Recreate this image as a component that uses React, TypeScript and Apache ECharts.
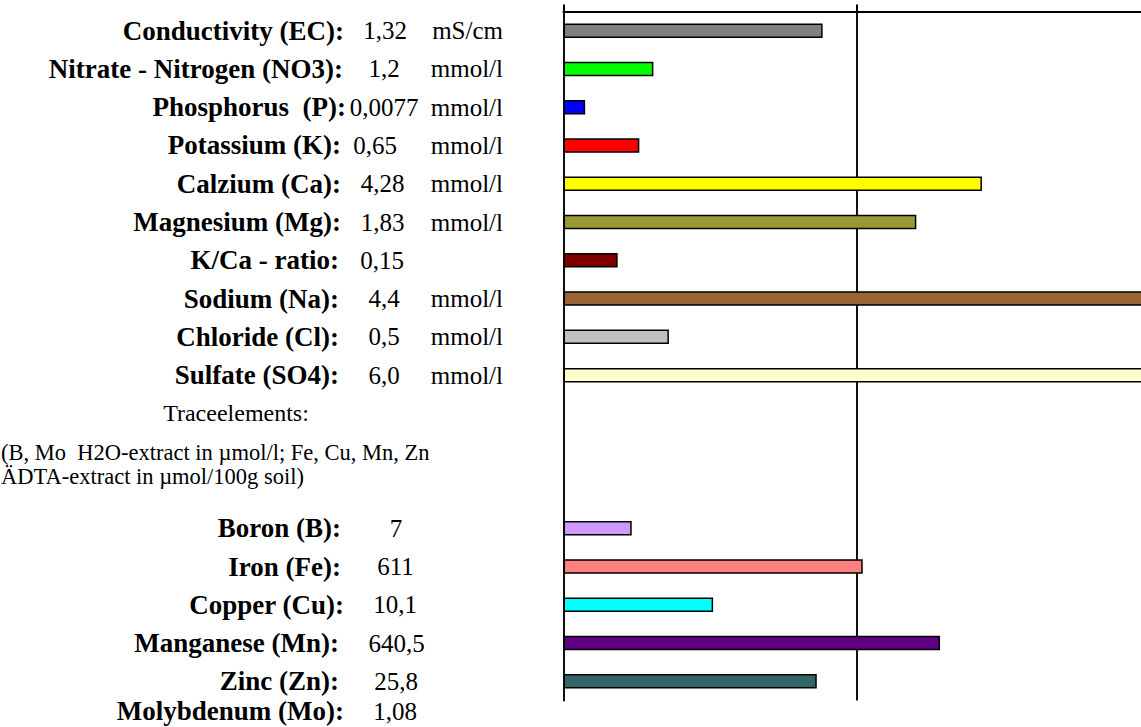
import React, { useEffect, useRef } from "react";
import * as echarts from "echarts";

// ---- data ----
const categories = [
  "Conductivity (EC)", "Nitrate - Nitrogen (NO3)", "Phosphorus (P)", "Potassium (K)",
  "Calzium (Ca)", "Magnesium (Mg)", "K/Ca - ratio", "Sodium (Na)", "Chloride (Cl)",
  "Sulfate (SO4)", "Traceelements", "note-1", "note-2", "Boron (B)", "Iron (Fe)",
  "Copper (Cu)", "Manganese (Mn)", "Zinc (Zn)",
];
// bar length in % of the norm (vertical line = 100 %)
const barPercent = [88.5, 30.7, 7.4, 25.9, 142.9, 120.5, 18.5, 200, 36.0, 200, null, null, null, 23.3, 102.2, 51.1, 128.6, 86.5];
const barColors = [
  "#808080", "#00FF00", "#0000FF", "#FF0000", "#FFFF00", "#999933", "#800000", "#996633", "#C0C0C0",
  "#FFFFCC", null, null, null, "#CC99FF", "#FF8080", "#00FFFF", "#600080", "#336666",
];
const rowLabels = [
  "Conductivity (EC):", "Nitrate - Nitrogen (NO3):", "Phosphorus  (P):", "Potassium (K):",
  "Calzium (Ca):", "Magnesium (Mg):", "K/Ca - ratio:", "Sodium (Na):", "Chloride (Cl):",
  "Sulfate (SO4):", "", "", "", "Boron (B):", "Iron (Fe):", "Copper (Cu):",
  "Manganese (Mn):", "Zinc (Zn):", "Molybdenum (Mo):",
];
const rowValues = [
  "1,32", "1,2", "0,0077", "0,65", "4,28", "1,83", "0,15", "4,4", "0,5", "6,0", "", "", "",
  "7", "611", "10,1", "640,5", "25,8", "1,08",
];
const rowUnits = [
  "mS/cm", "mmol/l", "mmol/l", "mmol/l", "mmol/l", "mmol/l", "", "mmol/l", "mmol/l", "mmol/l",
  "", "", "", "", "", "", "", "", "",
];
const sectionTitle = "Traceelements:";
const noteLines = [
  "(B, Mo  H2O-extract in µmol/l; Fe, Cu, Mn, Zn",
  "ÄDTA-extract in µmol/100g soil)",
];

// ---- layout ----
const GRID_LEFT = 563.5;
const GRID_TOP = 11.5;
const GRID_W = 585.6;
const GRID_H = 689;
const BAND = GRID_H / categories.length;
const labelRight = [344, 343, 346, 341, 341, 341, 339, 339, 339, 339, 0, 0, 0, 341, 341, 344, 339, 339, 344];
const valueCenter = [385, 384, 384, 375, 382.5, 382.5, 382, 384, 384, 384, 0, 0, 0, 396, 395.5, 395, 396.5, 396, 395];
const UNIT_RIGHT = 503;
const FONT_FAMILY = '"Liberation Serif", "Times New Roman", serif';

function rowY(i: number) {
  return GRID_TOP + (i + 0.5) * BAND;
}

function txt(text: string, x: number, y: number, align: string, font: string) {
  return {
    type: "text",
    x,
    y,
    silent: true,
    style: {
      text,
      fill: "#000",
      font,
      align,
      verticalAlign: "middle",
      textAlign: align,
      textVerticalAlign: "middle",
    },
  };
}

export default function App() {
  const ref = useRef<HTMLDivElement>(null);

  useEffect(() => {
    if (!ref.current) return;
    const chart = echarts.init(ref.current, null, { renderer: "svg" });

    const graphics: any[] = [];
    rowLabels.forEach((lab, i) => {
      const y = i === rowLabels.length - 1 ? Math.min(rowY(i), 711) : rowY(i);
      if (lab) graphics.push(txt(lab, labelRight[i], y, "right", `bold 27px ${FONT_FAMILY}`));
      if (rowValues[i]) graphics.push(txt(rowValues[i], valueCenter[i], y, "center", `25px ${FONT_FAMILY}`));
      if (rowUnits[i]) graphics.push(txt(rowUnits[i], UNIT_RIGHT, y, "right", `25px ${FONT_FAMILY}`));
    });
    graphics.push(txt(sectionTitle, 236, rowY(10), "center", `24px ${FONT_FAMILY}`));
    graphics.push(txt(noteLines[0], 1, 452, "left", `22.5px ${FONT_FAMILY}`));
    graphics.push(txt(noteLines[1], 1, 476, "left", `22.5px ${FONT_FAMILY}`));

    chart.setOption({
      animation: false,
      backgroundColor: "#fff",
      grid: { left: GRID_LEFT, top: GRID_TOP, width: GRID_W, height: GRID_H, containLabel: false },
      xAxis: {
        type: "value",
        position: "top",
        min: 0,
        max: 200,
        interval: 100,
        axisLabel: { show: false },
        axisLine: { show: true, lineStyle: { color: "#000", width: 2 } },
        axisTick: { show: true, inside: false, length: 7, lineStyle: { color: "#000", width: 2 } },
        splitLine: { show: true, lineStyle: { color: "#111", width: 2 } },
      },
      yAxis: {
        type: "category",
        inverse: true,
        data: categories,
        axisLabel: { show: false },
        axisTick: { show: false },
        axisLine: { show: true, lineStyle: { color: "#111", width: 2 } },
        splitLine: { show: false },
      },
      series: [
        {
          type: "bar",
          barWidth: 14.5,
          clip: true,
          data: barPercent.map((v, i) =>
            v == null
              ? null
              : { value: v, itemStyle: { color: barColors[i] as string, borderColor: "#000", borderWidth: 1.5 } }
          ),
        },
      ],
      graphic: { elements: graphics },
    });

    return () => chart.dispose();
  }, []);

  return (
    <div
      style={{
        position: "fixed",
        left: 0,
        top: 0,
        width: "100vw",
        height: "100vh",
        overflow: "hidden",
        background: "#fff",
      }}
    >
      <div ref={ref} style={{ width: 1160, height: 727 }} />
    </div>
  );
}
